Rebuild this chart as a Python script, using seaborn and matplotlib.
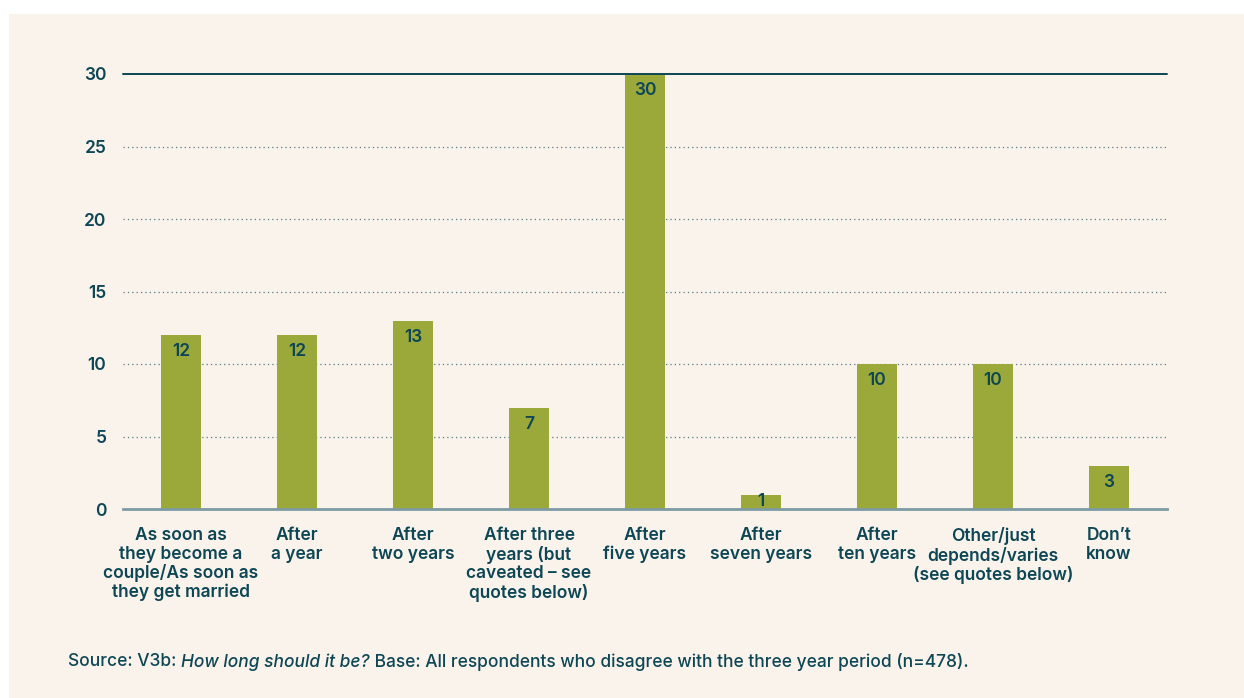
import pandas as pd
import numpy as np
import matplotlib.pyplot as plt
import seaborn as sns
from matplotlib.patches import Rectangle

# chart data
categories = [
    "As soon as\nthey become a\ncouple/As soon as\nthey get married",
    "After\na year",
    "After\ntwo years",
    "After three\nyears (but\ncaveated \u2013 see\nquotes below)",
    "After\nfive years",
    "After\nseven years",
    "After\nten years",
    "Other/just\ndepends/varies\n(see quotes below)",
    "Don\u2019t\nknow",
]
values = [12, 12, 13, 7, 30, 1, 10, 10, 3]
y_ticks = [0, 5, 10, 15, 20, 25, 30]

df = pd.DataFrame({"category": categories, "value": values})

# colours
BAR = "#9BA83A"
TEXT = "#0D4654"
CREAM = "#FAF3EC"
BASE = "#7E9AA2"
W = "semibold"

sns.set_theme(style="white")
plt.rcParams["font.family"] = ["Inter", "DejaVu Sans"]

fig = plt.figure(figsize=(12.44, 6.98), dpi=100)
fig.patch.set_facecolor("white")
fig.patches.append(Rectangle((9 / 1244, 0), 1, 1 - 14 / 698,
                             transform=fig.transFigure, facecolor=CREAM,
                             edgecolor="none", zorder=-5))

ax = fig.add_axes([123 / 1244, 1 - 509 / 698, (1167 - 123) / 1244, (509 - 74) / 698])
ax.patch.set_alpha(0)

sns.barplot(data=df, x="category", y="value", color=BAR, width=0.345,
            saturation=1, linewidth=0, edgecolor="none", ax=ax, zorder=3)

ax.set_xlim(-0.5, len(categories) - 0.5)
ax.set_ylim(0, 30)
ax.set_yticks(y_ticks)
ax.set_yticklabels([str(t) for t in y_ticks], fontweight=W, color=TEXT)
ax.set_xticks(range(len(categories)))
ax.set_xticklabels(categories, fontweight=W, color=TEXT, linespacing=1.12,
                   multialignment="center", va="top")

# grid lines
for t in y_ticks[1:-1]:
    ax.axhline(t, color=TEXT, linestyle=(0, (1, 2.5)), linewidth=0.9, alpha=0.7, zorder=1)
ax.axhline(30, color=TEXT, linewidth=1.4, zorder=4, clip_on=False)

for s in ["top", "right", "left"]:
    ax.spines[s].set_visible(False)
ax.spines["bottom"].set_color(BASE)
ax.spines["bottom"].set_linewidth(2)
ax.spines["bottom"].set_zorder(5)

ax.tick_params(axis="both", length=0, colors=TEXT)
ax.tick_params(axis="y", pad=12, labelsize=12.5)
ax.tick_params(axis="x", pad=13, labelsize=12.5)
ax.set_xlabel("")
ax.set_ylabel("")

# value labels inside bars
for i, v in enumerate(values):
    ax.text(i, max(v - 1.15, v * 0.5), str(v), ha="center", va="center",
            fontsize=12.5, fontweight=W, color=TEXT, zorder=6)

# source note with italic part
SW = "medium"
t1 = fig.text(68 / 1244, 1 - 662 / 698, "Source: V3b: ", fontsize=12.5,
              color=TEXT, fontweight=SW, va="center")
t2 = fig.text(0, 0, "How long should it be?", fontsize=12.5, color=TEXT,
              fontweight=SW, style="italic", va="center")
t3 = fig.text(0, 0, " Base: All respondents who disagree with the three year period (n=478).",
              fontsize=12.5, color=TEXT, fontweight=SW, va="center")
fig.canvas.draw()
r = fig.canvas.get_renderer()
x = t1.get_window_extent(r).x1 / fig.bbox.width
t2.set_position((x, 1 - 662 / 698))
fig.canvas.draw()
x = t2.get_window_extent(r).x1 / fig.bbox.width
t3.set_position((x, 1 - 662 / 698))

fig.savefig("out.png", dpi=100, facecolor=fig.get_facecolor())
